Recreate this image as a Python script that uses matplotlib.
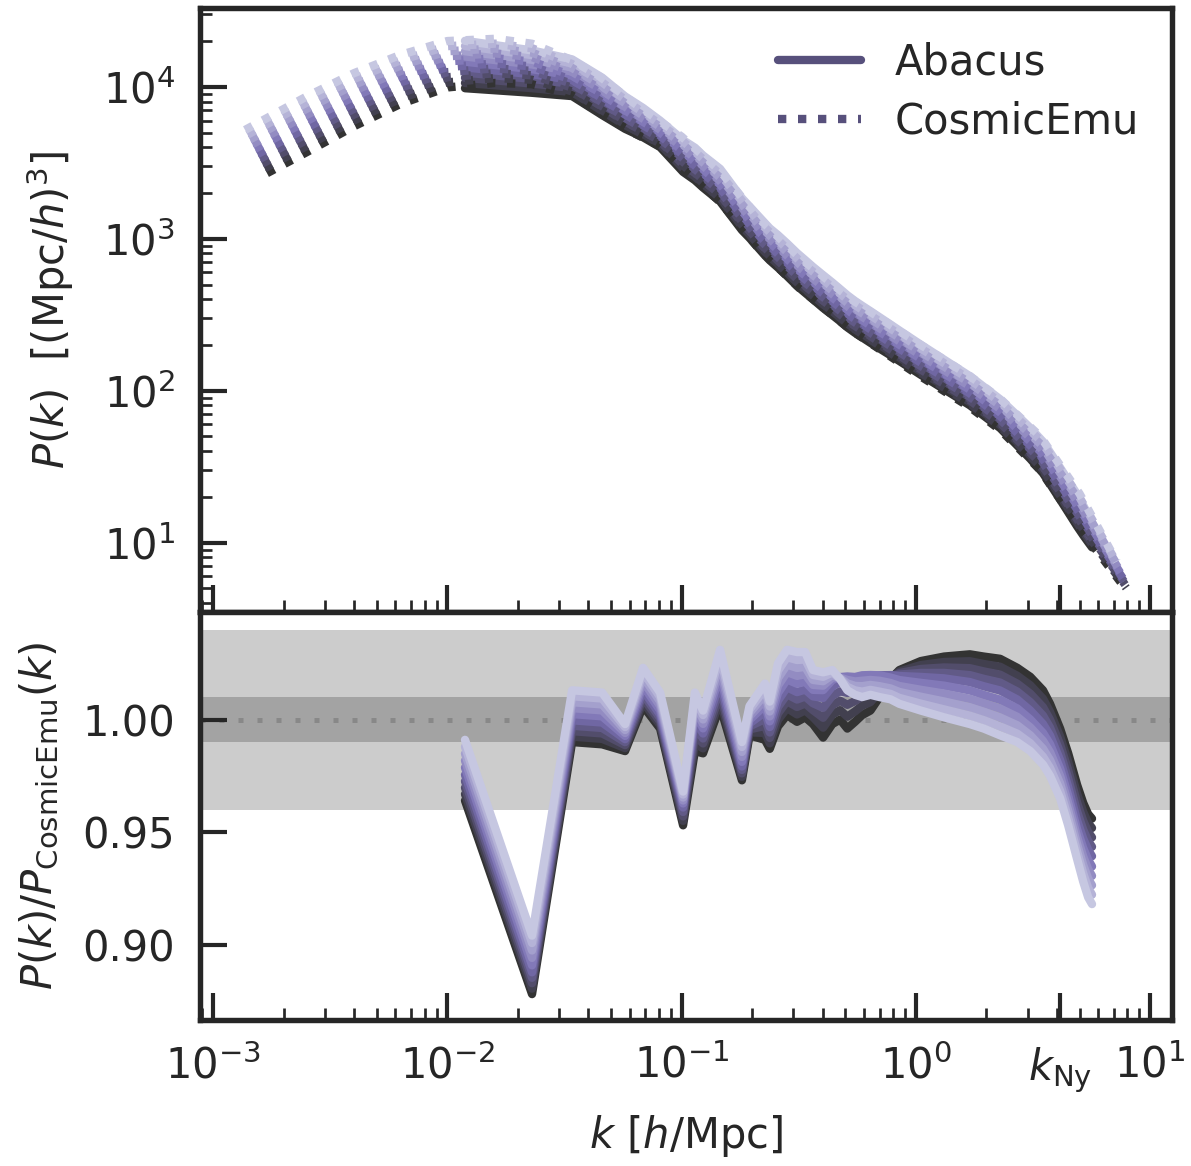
import matplotlib
matplotlib.use("Agg")
import matplotlib.pyplot as plt
import numpy as np
from matplotlib.colors import LinearSegmentedColormap, to_hex
from matplotlib.lines import Line2D
from matplotlib.ticker import LogLocator, NullFormatter, FixedLocator

# ---- data ------------------------------------------------------------------
# CosmicEmu spectra: lowest (darkest) and highest (lightest) cosmology
k_emu_dark = [0.0017, 0.0025, 0.004, 0.0063, 0.01, 0.016, 0.023, 0.034, 0.045,
              0.062, 0.08, 0.1, 0.146, 0.215, 0.32, 0.53, 1.0, 1.7, 2.3, 3.4,
              5.0, 8.0]
k_emu_light = [0.00137, 0.0025, 0.004, 0.0063, 0.01, 0.016, 0.023, 0.034, 0.045,
               0.062, 0.08, 0.1, 0.146, 0.215, 0.32, 0.53, 1.0, 1.7, 2.3, 3.4,
               5.0, 7.2]
pk_emu_dark = [2700, 3700, 5500, 7700, 9900, 10600, 10400, 8800, 6700, 5000,
               4100, 2950, 1750, 850, 470, 250, 130, 78, 55, 30, 12.5, 4.8]
pk_emu_light = [5200, 8600, 12300, 16200, 20000, 20700, 19200, 15000, 11600,
                7900, 6000, 4700, 2800, 1350, 750, 400, 210, 125, 88, 50, 21, 7.5]

# Abacus / CosmicEmu ratio on the Abacus k bins
k_abacus = [0.0119, 0.0230, 0.0341, 0.0458, 0.0574, 0.0685, 0.0810, 0.1015,
            0.114, 0.1235, 0.146, 0.181, 0.195, 0.227, 0.238, 0.258, 0.282,
            0.311, 0.337, 0.364, 0.402, 0.44, 0.475, 0.51, 0.55, 0.59, 0.64,
            0.70, 0.78, 0.85, 1.05, 1.32, 1.70, 1.95, 2.29, 2.71, 3.08, 3.49,
            3.74, 4.13, 4.47, 4.88, 5.18, 5.44, 5.65]
ratio_dark = [0.964, 0.878, 0.990, 0.989, 0.986, 1.006, 0.996, 0.953, 0.986,
              0.985, 1.006, 0.973, 0.993, 0.991, 0.987, 0.997, 1.002, 0.999,
              1.001, 0.998, 0.992, 0.998, 1.000, 0.996, 0.999, 1.002, 1.004,
              1.010, 1.018, 1.022, 1.026, 1.028, 1.029, 1.028, 1.027, 1.023,
              1.019, 1.013, 1.007, 0.996, 0.985, 0.971, 0.963, 0.958, 0.956]
ratio_mid = [0.977, 0.889, 1.001, 1.000, 0.992, 1.014, 1.003, 0.962, 1.002,
             0.995, 1.018, 0.980, 0.999, 1.005, 0.998, 1.010, 1.016, 1.014,
             1.015, 1.012, 1.012, 1.017, 1.019, 1.020, 1.020, 1.021, 1.021,
             1.021, 1.020, 1.019, 1.018, 1.017, 1.015, 1.013, 1.011, 1.007,
             1.002, 0.996, 0.991, 0.980, 0.968, 0.953, 0.945, 0.940, 0.937]
ratio_light = [0.991, 0.904, 1.013, 1.012, 0.998, 1.023, 1.012, 0.968, 1.012,
               1.004, 1.031, 0.990, 1.006, 1.016, 1.008, 1.025, 1.031, 1.030,
               1.030, 1.022, 1.021, 1.022, 1.018, 1.013, 1.011, 1.010, 1.011,
               1.010, 1.009, 1.007, 1.004, 1.001, 0.998, 0.996, 0.993, 0.990,
               0.986, 0.980, 0.975, 0.965, 0.953, 0.938, 0.928, 0.921, 0.918]

# position of each cosmology inside the envelope (0 = darkest, 1 = lightest)
cosmo_frac = [0.0, 0.11, 0.22, 0.33, 0.44, 0.56, 0.67, 0.78, 0.89, 1.0]

k_ny = 4.12
x_major = [1e-3, 1e-2, 1e-1, 1e0, k_ny, 1e1]
x_major_labels = [r"$10^{-3}$", r"$10^{-2}$", r"$10^{-1}$", r"$10^{0}$",
                  r"$k_{\rm Ny}$", r"$10^{1}$"]

# ---- style -----------------------------------------------------------------
INK = "#262626"
plt.rcParams.update({
    "font.family": "DejaVu Sans",
    "mathtext.fontset": "dejavusans",
    "font.size": 20,
    "text.color": INK,
    "axes.edgecolor": INK,
    "axes.labelcolor": INK,
    "axes.linewidth": 2.6,
    "xtick.color": INK,
    "ytick.color": INK,
})

base = plt.get_cmap("Purples_r")
cmap = LinearSegmentedColormap.from_list(
    "purples_d", ["#333333", base(1 / 3), base(2 / 3)])
colors = [to_hex(cmap(f)) for f in cosmo_frac]

k_ab = np.array(k_abacus)
r_d, r_m, r_l = map(np.array, (ratio_dark, ratio_mid, ratio_light))
lk_d, lk_l = np.log10(k_emu_dark), np.log10(k_emu_light)
lp_d, lp_l = np.log10(pk_emu_dark), np.log10(pk_emu_light)


def ratio_for(f):
    if f <= 0.5:
        w = f / 0.5
        return r_d + (r_m - r_d) * w
    w = (f - 0.5) / 0.5
    return r_m + (r_l - r_m) * w


fig = plt.figure(figsize=(1191 / 150, 1166 / 150), dpi=150)
W, H = 1191, 1166
ax_top = fig.add_axes([200 / W, 1 - 612 / H, 972 / W, 604 / H])
ax_bot = fig.add_axes([200 / W, 1 - 1020 / H, 972 / W, 408 / H], sharex=ax_top)

emu_curves = []
for f, c in zip(cosmo_frac, colors):
    lk = lk_d + (lk_l - lk_d) * f
    lp = lp_d + (lp_l - lp_d) * f
    emu_curves.append((10 ** lk, 10 ** lp, c))
    pk_at_ab = 10 ** np.interp(np.log10(k_ab), lk, lp)
    rat = ratio_for(f)
    ax_top.plot(k_ab, pk_at_ab * rat, color=c, lw=4, solid_capstyle="round",
                solid_joinstyle="round")
    ax_bot.plot(k_ab, rat, color=c, lw=4, solid_capstyle="round",
                solid_joinstyle="round", zorder=3)

for k_e, p_e, c in emu_curves:
    ax_top.plot(k_e, p_e, color=c, lw=4, ls=(0, (1, 1.4)),
                dash_capstyle="butt")

# bands and unity line
ax_bot.axhspan(0.96, 1.04, color="k", alpha=0.2, lw=0, zorder=0)
ax_bot.axhspan(0.99, 1.01, color="k", alpha=0.2, lw=0, zorder=0)
ax_bot.axhline(1.0, color="#888888", lw=2.4, ls=(0, (1, 2.8)), zorder=1)

for ax in (ax_top, ax_bot):
    ax.set_xscale("log")
    ax.tick_params(which="both", direction="in", top=False, right=False)
    ax.tick_params(which="major", length=13, width=2.0, pad=12)
    ax.tick_params(which="minor", length=5.8, width=1.3)
    ax.xaxis.set_major_locator(FixedLocator(x_major))
    ax.xaxis.set_minor_locator(LogLocator(base=10, subs=np.arange(2, 10)))
    ax.xaxis.set_minor_formatter(NullFormatter())

ax_top.set_xlim(8.8e-4, 12.4)
ax_top.set_yscale("log")
ax_top.set_ylim(3.5, 3.3e4)
ax_top.yaxis.set_minor_locator(LogLocator(base=10, subs=np.arange(2, 10)))
ax_top.yaxis.set_minor_formatter(NullFormatter())
ax_top.tick_params(axis="x", labelbottom=False)
ax_top.set_ylabel(r"$P(k)\ \ [(\mathrm{Mpc}/h)^3]$", labelpad=13)

ax_bot.set_xticklabels(x_major_labels)
ax_bot.set_ylim(0.8665, 1.0478)
ax_bot.set_yticks([0.90, 0.95, 1.00])
ax_bot.set_yticklabels(["0.90", "0.95", "1.00"])
ax_bot.set_xlabel(r"$k\ [h/\mathrm{Mpc}]$", labelpad=9)
ax_bot.set_ylabel(r"$P(k)/P_{\rm CosmicEmu}(k)$", labelpad=10)

handles = [Line2D([], [], color="#57507c", lw=4, solid_capstyle="round"),
           Line2D([], [], color="#57507c", lw=4, ls=(0, (1, 1.4)))]
ax_top.legend(handles, ["Abacus", "CosmicEmu"], loc="upper right",
              frameon=False, fontsize=20, labelspacing=0.42, borderaxespad=0.4)

fig.savefig("out.png", dpi=150, facecolor="white")
